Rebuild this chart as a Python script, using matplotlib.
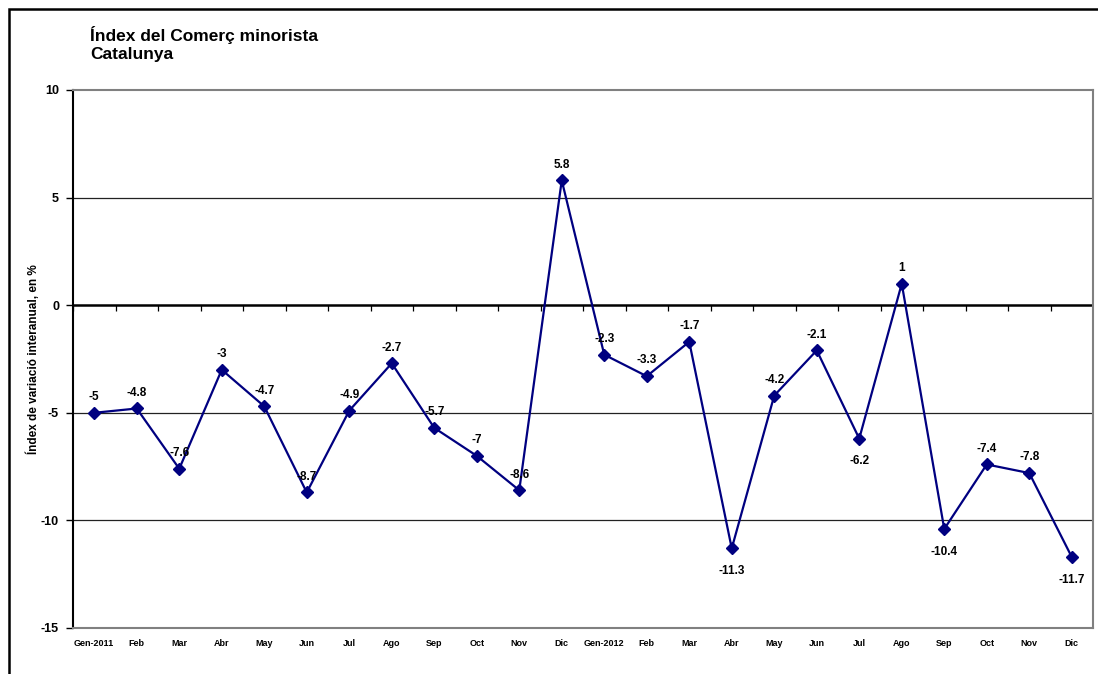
import numpy as np
import matplotlib.pyplot as plt
from matplotlib.patches import Rectangle

plt.rcParams['font.family'] = ['Liberation Sans', 'DejaVu Sans']
plt.rcParams['axes.unicode_minus'] = False

months = ["Gen-2011", "Feb", "Mar", "Abr", "May", "Jun", "Jul", "Ago", "Sep", "Oct", "Nov", "Dic",
          "Gen-2012", "Feb", "Mar", "Abr", "May", "Jun", "Jul", "Ago", "Sep", "Oct", "Nov", "Dic"]
values = [-5, -4.8, -7.6, -3, -4.7, -8.7, -4.9, -2.7, -5.7, -7, -8.6, 5.8,
          -2.3, -3.3, -1.7, -11.3, -4.2, -2.1, -6.2, 1, -10.4, -7.4, -7.8, -11.7]
# labels placed below the point
below = [15, 18, 20, 23]

fig = plt.figure(figsize=(10.98, 6.74), dpi=100)
ax = fig.add_axes([73/1098, 46/674, 1020/1098, 538/674])

x = np.arange(len(values))
ax.plot(x, values, color='#000080', lw=1.6, marker='D', markersize=6, zorder=3)

for i, v in enumerate(values):
    if i in below:
        ax.annotate(f"{v:g}", (i, v), xytext=(0, -12), textcoords='offset points',
                    ha='center', va='top', fontsize=8.5, fontweight='bold')
    else:
        ax.annotate(f"{v:g}", (i, v), xytext=(0, 7), textcoords='offset points',
                    ha='center', va='bottom', fontsize=8.5, fontweight='bold')

ax.set_xlim(-0.5, len(values) - 0.5)
ax.set_ylim(-15, 10)
ax.set_yticks([-15, -10, -5, 0, 5, 10])
ax.set_xticks(x)
ax.set_xticklabels(months, fontsize=6.5, fontweight='bold')
ax.tick_params(axis='x', length=0, pad=8)
ax.tick_params(axis='y', length=5, width=1, labelsize=9, pad=5)
for lab in ax.get_yticklabels():
    lab.set_fontweight('bold')

for yv in [-10, -5, 5]:
    ax.axhline(yv, color='#222222', lw=0.9, zorder=1)
ax.axhline(0, color='black', lw=1.8, zorder=2)
bounds = np.arange(len(values) + 1) - 0.5
ax.vlines(bounds, -0.25, 0, color='black', lw=0.9, zorder=2)

ax.spines['left'].set_color('black')
ax.spines['left'].set_linewidth(1.5)
for s in ['top', 'right', 'bottom']:
    ax.spines[s].set_color('#808080')
    ax.spines[s].set_linewidth(1.5)

ax.set_ylabel("Índex de variació interanual, en %", fontsize=8.5, fontweight='bold')
ax.yaxis.set_label_coords(-33/1020, 0.5)

fig.text(90/1098, 1 - 26/674, "Índex del Comerç minorista\nCatalunya", fontsize=12.5,
         fontweight='bold', va='top', ha='left', linespacing=1.25)

fig.patches.append(Rectangle((9/1098, -0.1), 1.2, 1.1 - 9/674, transform=fig.transFigure,
                             fill=False, edgecolor='black', lw=1.8))

fig.savefig("out.png", dpi=100)
